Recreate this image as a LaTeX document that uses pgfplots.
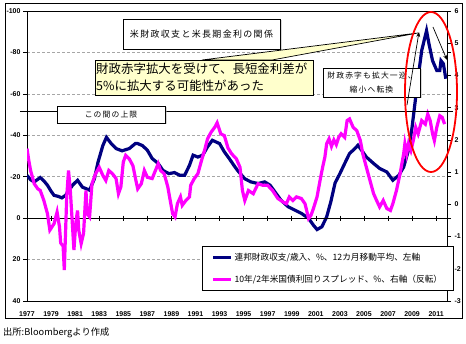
\documentclass[border=0pt]{standalone}
\usepackage{fontspec}
\setmainfont{Liberation Sans}
\newfontfamily\jp{Noto Sans CJK JP}
\newfontfamily\jpw[LetterSpace=15]{Noto Sans CJK JP}
\usepackage{pgfplots}
\pgfplotsset{compat=1.18}
\usetikzlibrary{shadows,arrows.meta}
\definecolor{navy}{RGB}{0,0,128}
\definecolor{mag}{RGB}{255,0,255}
\definecolor{callout}{RGB}{255,255,204}
\begin{document}
\begin{tikzpicture}
\useasboundingbox (-27bp,-43bp) rectangle (439bp,301bp);
\draw[black, line width=0.8bp] (-22bp,298bp) rectangle (435bp,-17bp);
\begin{axis}[
  at={(0,0)}, anchor=south west,
  scale only axis, width=420bp, height=290bp,
  xmin=1977, xmax=2011.9,
  ymin=-100, ymax=40, y dir=reverse,
  xtick={1977,1979,...,2011},
  ytick={-100,-80,-60,-40,-20,20,40},
  extra y ticks={0},
  extra y tick style={grid=none},
  /pgf/number format/.cd, 1000 sep={}, assume math mode=true, /pgfplots/.cd,
  ticklabel style={font=\fontsize{7}{8}\selectfont\bfseries},
  xtick style={draw=none},
  xticklabel style={yshift=-3bp},
  tick align=outside, major tick length=4bp,
  ytick style={black, line width=0.6bp},
  yticklabel style={xshift=1bp},
  ymajorgrids, grid style={dash pattern=on 3bp off 2bp, gray!70, line width=0.6bp},
  axis line style={black, line width=0.8bp},
]
\addplot[navy, line width=3.2bp] coordinates {
(1977.0,-20.7) (1977.3,-18.5) (1977.6,-17.5) (1978.1,-19.6) (1978.4,-18) (1978.7,-15.9)
(1979.0,-13) (1979.25,-11) (1979.6,-10.5) (1979.9,-9.8) (1980.2,-11) (1980.4,-12.7)
(1980.8,-16) (1981.2,-18.3) (1981.6,-15) (1982.2,-13.5) (1982.6,-19) (1982.9,-27)
(1983.3,-35) (1983.6,-39) (1984.0,-36) (1984.4,-33.6) (1984.9,-32.5) (1985.5,-33.6)
(1986.0,-36) (1986.2,-36) (1986.6,-35) (1987.0,-32.8) (1987.4,-28.8) (1987.9,-26.4)
(1988.3,-23) (1988.8,-21.5) (1989.25,-22) (1989.7,-20.7) (1990.1,-20.7) (1990.5,-25.5)
(1990.8,-30.4) (1991.2,-29.5) (1991.6,-30.4) (1992.0,-34.4) (1992.4,-37.6) (1992.7,-36.8)
(1993.0,-36) (1993.4,-32) (1993.8,-28.8) (1994.25,-25) (1994.5,-23) (1995.1,-19)
(1995.6,-17.5) (1996.2,-16.7) (1996.75,-17.5) (1997.2,-15.9) (1997.6,-12.7) (1998.1,-8.7)
(1998.7,-5.5) (1999.25,-3.9) (1999.8,-2.3) (2000.4,0.1) (2000.8,3.4) (2001.1,5.5)
(2001.5,4.2) (2001.9,-0.6) (2002.25,-8) (2002.6,-17) (2003.0,-21.5) (2003.4,-26.4)
(2003.8,-31.2) (2004.25,-33.6) (2004.5,-35.2) (2004.8,-32.8) (2005.2,-29.5) (2005.8,-26.4)
(2006.3,-24) (2006.9,-22.3) (2007.4,-18.3) (2007.9,-20.7) (2008.3,-24.7) (2008.7,-32.8)
(2009.0,-44) (2009.4,-63.3) (2009.8,-81) (2010.2,-90.5) (2010.4,-84.2) (2010.7,-76)
(2011.05,-71.3) (2011.3,-71.3) (2011.4,-76) (2011.6,-74.5) (2011.8,-67.3)
};
\end{axis}
% zero line with year ticks
\begin{axis}[
  at={(0,0)}, anchor=south west,
  scale only axis, width=420bp, height=290bp,
  xmin=1977, xmax=2011.9,
  ymin=-100, ymax=40, y dir=reverse,
  axis x line=middle, axis y line=none,
  xtick={1977,1979,...,2011}, xticklabels={},
  tick align=center, major tick length=5bp,
  xtick style={black, line width=0.6bp},
  axis line style={black, line width=1bp, -},
]
\end{axis}
\begin{axis}[
  at={(0,0)}, anchor=south west,
  scale only axis, width=420bp, height=290bp,
  xmin=1977, xmax=2011.9,
  ymin=-3, ymax=6,
  axis y line*=right, axis x line=none,
  ytick={-3,-2,...,6},
  /pgf/number format/.cd, assume math mode=true, /pgfplots/.cd,
  ticklabel style={font=\fontsize{7}{8}\selectfont\bfseries},
  tick align=outside, major tick length=4bp,
  ytick style={black, line width=0.6bp},
  axis line style={black, line width=0.8bp},
  legend style={at={(axis description cs:0.4167,0.0345)}, anchor=south west,
    font=\jp\fontsize{8.7}{10}\selectfont, draw=black, line width=0.8bp,
    fill=white, row sep=9bp, inner xsep=9bp, inner ysep=5bp},
  legend cell align=left,
  legend image code/.code={\draw[#1] (0bp,0bp) -- (18bp,0bp);},
]
\addlegendimage{navy, line width=3bp}
\addlegendentry{連邦財政収支/歳入、\%、12カ月移動平均、左軸}
\addplot[mag, line width=3.2bp] coordinates {
(1977.0,1.73) (1977.15,1.36) (1977.3,1.05) (1977.6,0.64) (1977.9,0.48) (1978.1,0.43)
(1978.4,0.12) (1978.7,-0.29) (1978.9,-0.8) (1979.25,-0.6) (1979.5,-0.24) (1979.7,-0.7)
(1979.8,-1.2) (1980.0,-1.3) (1980.1,-2.04) (1980.3,0.23) (1980.45,1.05) (1980.6,0.43)
(1980.8,-0.8) (1980.9,-1.42) (1981.05,-0.6) (1981.2,-0.19) (1981.3,-0.8) (1981.5,-1.22)
(1981.7,-0.9) (1981.9,0.43) (1982.0,-0.29) (1982.2,-0.39) (1982.3,0.12) (1982.4,0.64)
(1982.7,0.95) (1983.0,1.15) (1983.3,0.9) (1983.55,0.74) (1983.8,1.05) (1984.1,0.95)
(1984.4,0.8) (1984.6,0.33) (1984.8,0.54) (1985.0,1.31) (1985.2,1.52) (1985.5,1.41)
(1985.8,1.2) (1986.05,0.74) (1986.2,0.48) (1986.5,0.64) (1986.75,1.05) (1987.0,0.84)
(1987.4,0.8) (1987.9,1.26) (1988.1,1.05) (1988.4,0.95) (1988.7,0.54) (1988.9,0.12)
(1989.1,-0.29) (1989.3,-0.39) (1989.5,0.02) (1989.75,0.23) (1989.9,-0.03) (1990.2,0.12)
(1990.5,0.23) (1990.6,0.59) (1990.9,0.8) (1991.2,0.95) (1991.5,1.36) (1991.75,1.67)
(1992.0,2.03) (1992.3,2.24) (1992.6,2.39) (1992.8,2.53) (1993.1,2.19) (1993.4,2.13)
(1993.7,1.75) (1994.0,1.57) (1994.4,1.41) (1994.7,1.15) (1994.9,0.43) (1995.1,0.12)
(1995.4,0.43) (1995.8,0.33) (1996.2,0.64) (1996.6,0.59) (1997.0,0.59) (1997.4,0.43)
(1997.85,0.18) (1998.3,0.07) (1998.55,0.02) (1998.8,0.23) (1999.1,0.12) (1999.4,0.23)
(1999.8,0.18) (2000.1,0.02) (2000.4,-0.44) (2000.6,-0.34) (2000.8,-0.13) (2001.1,0.23)
(2001.4,0.84) (2001.6,1.21) (2001.75,1.46) (2001.9,1.88) (2002.1,2.03) (2002.3,1.8)
(2002.5,2.0) (2002.7,1.85) (2002.9,2.08) (2003.1,2.19) (2003.4,2.08) (2003.6,2.6)
(2003.8,2.65) (2004.1,2.39) (2004.4,2.29) (2004.7,1.98) (2004.9,1.57) (2005.2,1.15)
(2005.5,0.74) (2005.8,0.33) (2006.05,0.12) (2006.3,-0.08) (2006.6,0.12) (2006.9,-0.13)
(2007.2,-0.19) (2007.4,0.02) (2007.7,0.43) (2008.0,0.95) (2008.3,1.57) (2008.4,1.88)
(2008.55,1.57) (2008.7,1.88) (2008.9,1.67) (2009.1,1.98) (2009.3,2.39) (2009.5,2.19)
(2009.8,2.6) (2010.1,2.49) (2010.3,2.8) (2010.5,2.6) (2010.7,2.19) (2010.85,1.98)
(2011.05,2.39) (2011.3,2.75) (2011.5,2.7) (2011.7,2.49)
};
\addlegendentry{10年/2年米国債利回りスプレッド、\%、右軸（反転）}
\end{axis}
% annotations (picture coordinates, 1bp = 1px)
\draw[black, line width=1bp] (-7bp,189bp) -- (426bp,189bp);
\node[draw=black, fill=white, line width=0.7bp, drop shadow={shadow xshift=1.5bp, shadow yshift=-1.5bp, fill=gray!60},
  minimum width=108bp, minimum height=17bp, inner sep=0pt, font=\jpw\fontsize{7.8}{9}\selectfont]
  at (84bp,186.5bp) {この間の上限};
\node[draw=black, fill=white, line width=0.7bp, drop shadow={shadow xshift=1.5bp, shadow yshift=-1.5bp, fill=gray!60},
  minimum width=157bp, minimum height=30bp, inner sep=0pt, font=\jpw\fontsize{9}{10}\selectfont]
  at (174.5bp,267bp) {米財政収支と米長期金利の関係};
\filldraw[fill=callout, draw=black, line width=0.7bp] (175bp,241bp) -- (391bp,268bp) -- (245bp,241bp) -- cycle;
\filldraw[fill=callout, draw=black, line width=0.7bp] (68bp,206bp) rectangle (286bp,241bp);
\node[anchor=west, align=left, inner sep=0pt, font=\jp\fontsize{12.5}{17.5}\selectfont]
  at (69bp,223.5bp) {財政赤字拡大を受けて、長短金利差が\\5\%に拡大する可能性があった};
\node[draw=black, fill=white, line width=0.7bp, drop shadow={shadow xshift=1.5bp, shadow yshift=-1.5bp, fill=gray!60},
  minimum width=97bp, minimum height=29bp, inner sep=0pt, align=center, font=\jpw\fontsize{7.8}{14}\selectfont]
  at (344.5bp,218.5bp) {財政赤字も拡大一巡、\\縮小へ転換};
\draw[black, line width=0.7bp, -{Stealth[length=5bp,width=4bp]}] (380bp,196bp) -- (392bp,269bp);
\draw[black, line width=0.7bp, -{Stealth[length=5bp,width=4bp]}] (406bp,274bp) -- (420bp,241bp);
\draw[red, line width=1.8bp] (404bp,209bp) ellipse [x radius=26bp, y radius=80bp];
\node[anchor=west, inner sep=0pt, font=\jp\fontsize{9.3}{10}\selectfont] at (-24bp,-32bp) {出所:Bloombergより作成};
\end{tikzpicture}
\end{document}
